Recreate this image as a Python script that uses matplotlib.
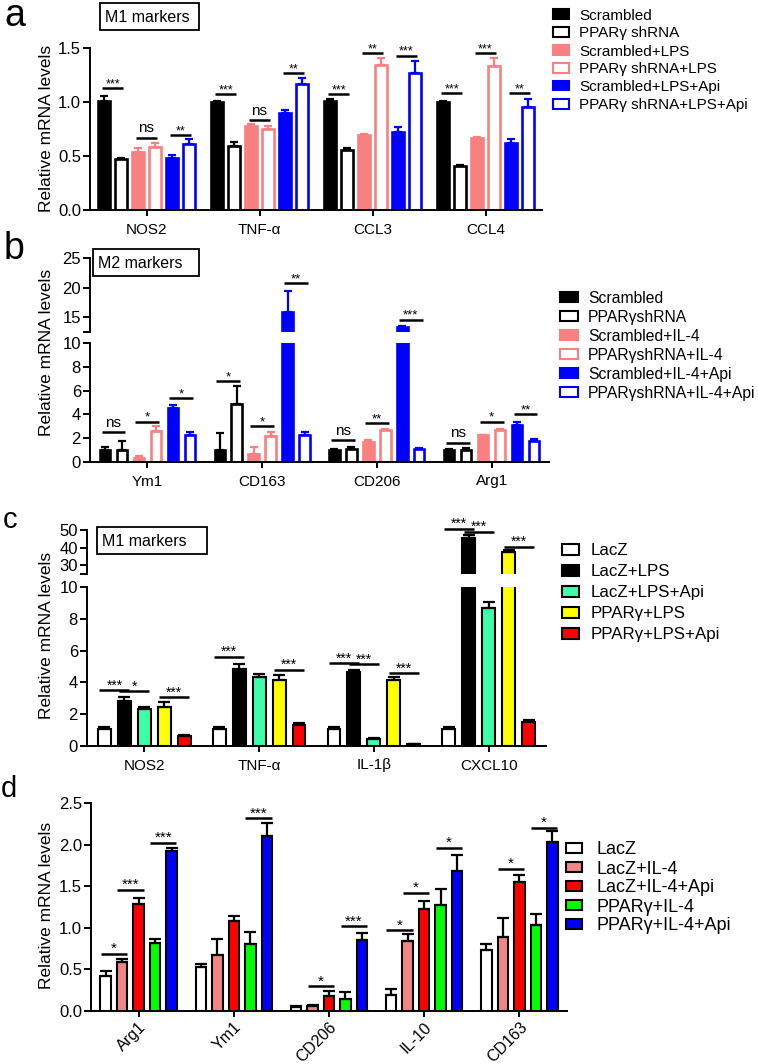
import matplotlib
matplotlib.use('Agg')
import matplotlib.pyplot as plt
from matplotlib.patches import Rectangle
from matplotlib.ticker import FormatStrFormatter
import numpy as np

plt.rcParams['font.family'] = ['Liberation Sans', 'DejaVu Sans']

# ---------------- data: panel a (M1 markers, shRNA + LPS) ----------------
a_groups = ['NOS2', 'TNF-α', 'CCL3', 'CCL4']
a_labels = ['Scrambled', 'PPARγ shRNA', 'Scrambled+LPS', 'PPARγ shRNA+LPS',
            'Scrambled+LPS+Api', 'PPARγ shRNA+LPS+Api']
a_scr = [1.01, 1.00, 1.01, 1.00]
a_scr_err = [0.05, 0.01, 0.02, 0.01]
a_sh = [0.47, 0.59, 0.56, 0.41]
a_sh_err = [0.01, 0.04, 0.01, 0.01]
a_scr_lps = [0.54, 0.78, 0.69, 0.67]
a_scr_lps_err = [0.03, 0.02, 0.01, 0.01]
a_sh_lps = [0.58, 0.75, 1.34, 1.33]
a_sh_lps_err = [0.04, 0.03, 0.07, 0.08]
a_scr_api = [0.48, 0.90, 0.72, 0.62]
a_scr_api_err = [0.03, 0.03, 0.05, 0.04]
a_sh_api = [0.61, 1.17, 1.27, 0.95]
a_sh_api_err = [0.05, 0.05, 0.11, 0.08]
# significance: (group, bar i, bar j, height, text)
a_sig = [(0, 0, 1, 1.13, '***'), (0, 2, 3, 0.67, 'ns'), (0, 4, 5, 0.69, '**'),
         (1, 0, 1, 1.07, '***'), (1, 2, 3, 0.83, 'ns'), (1, 4, 5, 1.27, '**'),
         (2, 0, 1, 1.07, '***'), (2, 2, 3, 1.45, '**'), (2, 4, 5, 1.43, '***'),
         (3, 0, 1, 1.08, '***'), (3, 2, 3, 1.45, '***'), (3, 4, 5, 1.08, '**')]

# ---------------- data: panel b (M2 markers, shRNA + IL-4) ----------------
b_groups = ['Ym1', 'CD163', 'CD206', 'Arg1']
b_labels = ['Scrambled', 'PPARγshRNA', 'Scrambled+IL-4', 'PPARγshRNA+IL-4',
            'Scrambled+IL-4+Api', 'PPARγshRNA+IL-4+Api']
b_scr = [1.0, 1.0, 1.0, 1.0]
b_scr_err = [0.3, 1.45, 0.06, 0.1]
b_sh = [1.0, 4.9, 1.1, 1.05]
b_sh_err = [0.8, 1.5, 0.18, 0.15]
b_scr_il4 = [0.35, 0.65, 1.7, 2.23]
b_scr_il4_err = [0.15, 0.65, 0.15, 0.08]
b_sh_il4 = [2.6, 2.2, 2.65, 2.65]
b_sh_il4_err = [0.4, 0.3, 0.15, 0.15]
b_scr_api = [4.5, 15.9, 13.3, 3.15]
b_scr_api_err = [0.3, 3.6, 0.2, 0.25]
b_sh_api = [2.3, 2.3, 1.1, 1.8]
b_sh_api_err = [0.25, 0.25, 0.08, 0.12]
b_sig = [(0, 0, 1, 2.5, 'ns'), (0, 2, 3, 3.4, '*'), (0, 4, 5, 5.35, '*'),
         (1, 0, 1, 6.8, '*'), (1, 2, 3, 3.0, '*'), (1, 4, 5, 20.8, '**'),
         (2, 0, 1, 1.83, 'ns'), (2, 2, 3, 3.26, '**'), (2, 4, 5, 14.6, '***'),
         (3, 0, 1, 1.6, 'ns'), (3, 2, 3, 3.4, '*'), (3, 4, 5, 4.03, '**')]

# ---------------- data: panel c (M1 markers, PPARγ overexpression + LPS) ----------------
c_groups = ['NOS2', 'TNF-α', 'IL-1β', 'CXCL10']
c_labels = ['LacZ', 'LacZ+LPS', 'LacZ+LPS+Api', 'PPARγ+LPS', 'PPARγ+LPS+Api']
c_lacz = [1.05, 1.05, 1.05, 1.05]
c_lacz_err = [0.17, 0.17, 0.15, 0.15]
c_lacz_lps = [2.84, 4.84, 4.63, 45.2]
c_lacz_lps_err = [0.26, 0.30, 0.17, 1.9]
c_lacz_api = [2.34, 4.34, 0.44, 8.68]
c_lacz_api_err = [0.14, 0.16, 0.06, 0.37]
c_ppar_lps = [2.44, 4.17, 4.17, 37.3]
c_ppar_lps_err = [0.30, 0.29, 0.17, 1.6]
c_ppar_api = [0.63, 1.33, 0.10, 1.54]
c_ppar_api_err = [0.07, 0.10, 0.02, 0.12]
c_sig = [(0, 0, 1, 3.5, '***'), (0, 1, 2, 3.43, '*'), (0, 3, 4, 3.07, '***'),
         (1, 0, 1, 5.6, '***'), (1, 3, 4, 4.8, '***'),
         (2, 0, 1, 5.2, '***'), (2, 1, 2, 5.15, '***'), (2, 3, 4, 4.57, '***'),
         (3, 0, 1, 50.6, '***'), (3, 1, 2, 48.9, '***'), (3, 3, 4, 40.6, '***')]

# ---------------- data: panel d (M2 markers, PPARγ overexpression + IL-4) ----------------
d_groups = ['Arg1', 'Ym1', 'CD206', 'IL-10', 'CD163']
d_labels = ['LacZ', 'LacZ+IL-4', 'LacZ+IL-4+Api', 'PPARγ+IL-4', 'PPARγ+IL-4+Api']
d_lacz = [0.42, 0.53, 0.05, 0.19, 0.73]
d_lacz_err = [0.06, 0.04, 0.01, 0.07, 0.07]
d_lacz_il4 = [0.59, 0.67, 0.06, 0.84, 0.89]
d_lacz_il4_err = [0.04, 0.20, 0.01, 0.08, 0.23]
d_lacz_api = [1.29, 1.08, 0.18, 1.23, 1.55]
d_lacz_api_err = [0.07, 0.06, 0.06, 0.09, 0.08]
d_ppar_il4 = [0.82, 0.80, 0.14, 1.28, 1.03]
d_ppar_il4_err = [0.04, 0.15, 0.09, 0.19, 0.13]
d_ppar_api = [1.92, 2.10, 0.85, 1.68, 2.03]
d_ppar_api_err = [0.04, 0.16, 0.09, 0.19, 0.13]
d_sig = [(0, 0, 1, 0.69, '*'), (0, 1, 2, 1.46, '***'), (0, 3, 4, 2.02, '***'),
         (1, 3, 4, 2.32, '***'),
         (2, 1, 2, 0.30, '*'), (2, 3, 4, 1.02, '***'),
         (3, 0, 1, 0.97, '*'), (3, 1, 2, 1.42, '*'), (3, 3, 4, 1.96, '*'),
         (4, 1, 2, 1.71, '*'), (4, 3, 4, 2.20, '*')]

# ---------------- styles ----------------
PINK = '#F88080'
BLUE = '#0000FF'
CGREEN = '#3DFFAA'
YELLOW = '#FFFF00'
RED = '#FF0000'
DPINK = '#F28585'
DGREEN = '#00FF00'

W, H, DPI = 758, 1064, 100
fig = plt.figure(figsize=(W / DPI, H / DPI), dpi=DPI)
fig.patch.set_facecolor('white')


def add_ax(x0, y0, x1, y1):
    return fig.add_axes([x0 / W, 1 - y1 / H, (x1 - x0) / W, (y1 - y0) / H])


def style_ax(ax, show_x=True, xsize=11):
    for s in ['top', 'right']:
        ax.spines[s].set_visible(False)
    for s in ['left', 'bottom']:
        ax.spines[s].set_linewidth(1.4)
    ax.tick_params(axis='y', length=5, width=1.4, pad=1.5, labelsize=12, direction='out')
    if show_x:
        ax.tick_params(axis='x', length=4, width=1.4, pad=5, labelsize=xsize, direction='out')
    else:
        ax.spines['bottom'].set_visible(False)
        ax.tick_params(axis='x', bottom=False, labelbottom=False)


def draw_bars(axes, ngroups, means, errs, faces, edges, pitch, width, lw, capsize, elw):
    n = len(means)
    centers = np.arange(ngroups)
    for i in range(n):
        xs = centers + (i - (n - 1) / 2) * pitch
        for ax in axes:
            ax.bar(xs, means[i], width, color=faces[i], edgecolor=edges[i],
                   linewidth=lw, zorder=2)
            ax.errorbar(xs, means[i], yerr=[np.zeros(ngroups), errs[i]], fmt='none',
                        ecolor=edges[i], elinewidth=elw, capsize=capsize,
                        capthick=elw, zorder=3)


def draw_sig(ax_for, sigs, n, pitch, ext, fs):
    for g, i, j, y, txt in sigs:
        ax = ax_for(y)
        x1 = g + (i - (n - 1) / 2) * pitch - ext * pitch
        x2 = g + (j - (n - 1) / 2) * pitch + ext * pitch
        ax.plot([x1, x2], [y, y], color='black', lw=1.8, solid_capstyle='butt',
                clip_on=False, zorder=4)
        off = 4 if txt == 'ns' else 0.5
        ax.annotate(txt, xy=((x1 + x2) / 2, y), xytext=(0, off), textcoords='offset points',
                    ha='center', va='baseline', fontsize=11 if txt == 'ns' else fs,
                    annotation_clip=False)


def legend(x_sq, x_txt, y0, pitch, sq_w, sq_h, faces, edges, labels, lw, fs=11):
    for k, (f, e, l) in enumerate(zip(faces, edges, labels)):
        y = y0 + k * pitch
        fig.add_artist(Rectangle((x_sq / W, 1 - (y + sq_h / 2) / H), sq_w / W, sq_h / H,
                                 transform=fig.transFigure, facecolor=f, edgecolor=e,
                                 linewidth=lw))
        fig.text(x_txt / W, 1 - y / H, l, ha='left', va='center_baseline', fontsize=fs)


def box(x0, y0, x1, y1, text):
    fig.add_artist(Rectangle((x0 / W, 1 - y1 / H), (x1 - x0) / W, (y1 - y0) / H,
                             transform=fig.transFigure, facecolor='white',
                             edgecolor='black', linewidth=1.3))
    fig.text((x0 + 5) / W, 1 - (y0 + y1) / 2 / H, text, ha='left',
             va='center_baseline', fontsize=11.5)


def ylabel(xc, yc):
    fig.text(xc / W, 1 - yc / H, 'Relative mRNA levels', rotation=90,
             ha='center', va='center', fontsize=12.5)


# ================= panel a =================
axa = add_ax(90, 48, 542, 210)
style_ax(axa)
a_means = [a_scr, a_sh, a_scr_lps, a_sh_lps, a_scr_api, a_sh_api]
a_errs = [a_scr_err, a_sh_err, a_scr_lps_err, a_sh_lps_err, a_scr_api_err, a_sh_api_err]
a_face = ['black', 'white', PINK, 'white', BLUE, 'white']
a_edge = ['black', 'black', PINK, PINK, BLUE, BLUE]
draw_bars([axa], len(a_groups), a_means, a_errs, a_face, a_edge, 0.15, 0.1, 1.9, 3, 1.6)
axa.set_xlim(-0.5, len(a_groups) - 0.5)
axa.set_ylim(0, 1.5)
axa.set_yticks([0, 0.5, 1.0, 1.5])
axa.yaxis.set_major_formatter(FormatStrFormatter('%.1f'))
axa.set_xticks(np.arange(len(a_groups)))
axa.set_xticklabels(a_groups)
draw_sig(lambda y: axa, a_sig, 6, 0.15, 0.1, 9)
ylabel(47, 128)
box(100, 3, 199, 30, 'M1 markers')
legend(553, 579, 14, 18, 16, 9, a_face, a_edge, a_labels, 1.5, 11)
fig.text(15 / W, 1 - 16 / H, 'a', ha='center', va='center', fontsize=27)

# ================= panel b =================
axb = add_ax(90, 343, 549, 462)
axb2 = add_ax(90, 258, 549, 332)
style_ax(axb)
style_ax(axb2, show_x=False)
b_means = [b_scr, b_sh, b_scr_il4, b_sh_il4, b_scr_api, b_sh_api]
b_errs = [b_scr_err, b_sh_err, b_scr_il4_err, b_sh_il4_err, b_scr_api_err, b_sh_api_err]
b_face = a_face
b_edge = a_edge
draw_bars([axb, axb2], len(b_groups), b_means, b_errs, b_face, b_edge, 0.148, 0.09, 1.9, 3, 1.6)
for ax in (axb, axb2):
    ax.set_xlim(-0.5, len(b_groups) - 0.5)
axb.set_ylim(0, 10)
axb.set_yticks([0, 2, 4, 6, 8, 10])
axb2.set_ylim(12.5, 25)
axb2.set_yticks([12.5, 15, 20, 25])
axb2.set_yticklabels(['', '15', '20', '25'])
axb.set_xticks(np.arange(len(b_groups)))
axb.set_xticklabels(b_groups)
draw_sig(lambda y: axb2 if y > 11 else axb, b_sig, 6, 0.148, 0.2, 9.5)
ylabel(47, 352)
box(93, 249, 199, 276, 'M2 markers')
legend(560, 588, 297, 19, 18, 10, b_face, b_edge, b_labels, 1.5, 11.3)
fig.text(14 / W, 1 - 249 / H, 'b', ha='center', va='center', fontsize=27)

# ================= panel c =================
axc = add_ax(87, 587, 546, 746)
axc2 = add_ax(87, 530, 546, 574)
style_ax(axc)
style_ax(axc2, show_x=False)
c_means = [c_lacz, c_lacz_lps, c_lacz_api, c_ppar_lps, c_ppar_api]
c_errs = [c_lacz_err, c_lacz_lps_err, c_lacz_api_err, c_ppar_lps_err, c_ppar_api_err]
c_face = ['white', 'black', CGREEN, YELLOW, RED]
c_edge = ['black'] * 5
draw_bars([axc, axc2], len(c_groups), c_means, c_errs, c_face, c_edge, 0.174, 0.112, 1.5, 4, 1.6)
for ax in (axc, axc2):
    ax.set_xlim(-0.5, len(c_groups) - 0.5)
axc.set_ylim(0, 10)
axc.set_yticks([0, 2, 4, 6, 8, 10])
axc2.set_ylim(25, 50)
axc2.set_yticks([25, 30, 40, 50])
axc2.set_yticklabels(['', '30', '40', '50'])
axc.set_xticks(np.arange(len(c_groups)))
axc.set_xticklabels(c_groups)
draw_sig(lambda y: axc2 if y > 11 else axc, c_sig, 5, 0.174, 0.25, 10)
ylabel(47, 635)
box(97, 527, 207, 554, 'M1 markers')
legend(562, 591, 549, 21, 17, 11, c_face, c_edge, c_labels, 1.5, 12.2)
fig.text(10 / W, 1 - 520 / H, 'c', ha='center', va='center', fontsize=21)

# ================= panel d =================
axd = add_ax(91, 803, 567, 1011)
style_ax(axd, xsize=11.5)
d_means = [d_lacz, d_lacz_il4, d_lacz_api, d_ppar_il4, d_ppar_api]
d_errs = [d_lacz_err, d_lacz_il4_err, d_lacz_api_err, d_ppar_il4_err, d_ppar_api_err]
d_face = ['white', DPINK, RED, DGREEN, BLUE]
d_edge = ['black'] * 5
draw_bars([axd], len(d_groups), d_means, d_errs, d_face, d_edge, 0.173, 0.11, 1.5, 4, 1.6)
axd.set_xlim(-0.5, len(d_groups) - 0.5)
axd.set_ylim(0, 2.5)
axd.set_yticks([0, 0.5, 1.0, 1.5, 2.0, 2.5])
axd.yaxis.set_major_formatter(FormatStrFormatter('%.1f'))
axd.set_xticks(np.arange(len(d_groups)))
axd.set_xticklabels(d_groups, rotation=45, ha='right', va='top', rotation_mode='anchor')
axd.tick_params(axis='x', pad=2)
draw_sig(lambda y: axd, d_sig, 5, 0.173, 0.3, 11)
ylabel(47, 905)
legend(566, 597, 848, 19, 16, 10, d_face, d_edge, d_labels, 1.5, 13)
fig.text(9 / W, 1 - 789 / H, 'd', ha='center', va='center', fontsize=21)

fig.savefig('out.png', dpi=DPI, facecolor='white')
